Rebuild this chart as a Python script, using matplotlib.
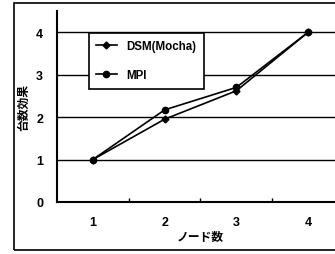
import matplotlib.pyplot as plt
from matplotlib.patches import Rectangle

nodes = [1, 2, 3, 4]
tick_labels = ['1', '2', '3', '4']
dsm_mocha = [1.0, 1.95, 2.62, 4.0]
mpi = [1.0, 2.17, 2.70, 4.0]

plt.rcParams['font.family'] = ['Liberation Sans', 'Noto Sans CJK JP', 'DejaVu Sans']
plt.rcParams['font.weight'] = 'bold'

fig = plt.figure(figsize=(3.35, 2.55), dpi=100)
ax = fig.add_axes([0.170, 0.204, 0.857, 0.749])

ax.plot(nodes, dsm_mocha, color='black', lw=1.2, marker='D', ms=3.5, label='DSM(Mocha)')
ax.plot(nodes, mpi, color='black', lw=1.2, marker='o', ms=4.5, label='MPI')

ax.set_xlim(0.5, 4.5)
ax.set_ylim(0, 4.5)
ax.set_xticks(nodes)
ax.set_xticklabels(tick_labels)
ax.set_xticks([1.5, 2.5, 3.5], minor=True)
ax.set_yticks([0, 1, 2, 3, 4])
ax.tick_params(axis='both', which='major', length=0, labelsize=9, pad=10)
ax.tick_params(axis='x', which='minor', direction='in', length=3, width=1)
ax.yaxis.grid(True, color='black', lw=1)
ax.set_axisbelow(True)

for s in ['top', 'right']:
    ax.spines[s].set_visible(False)
for s in ['left', 'bottom']:
    ax.spines[s].set_linewidth(1.5)

ax.set_xlabel('ノード数', fontsize=8.5, fontweight='bold', labelpad=1,
              family=['Noto Sans CJK JP'])
ax.set_ylabel('台数効果', fontsize=8.5, fontweight='bold', labelpad=4,
              family=['Noto Sans CJK JP'])

leg = ax.legend(loc='upper left', bbox_to_anchor=(0.09, 0.915), fontsize=8.3,
                frameon=True, fancybox=False, edgecolor='black', framealpha=1,
                handlelength=1.8, borderpad=0.65, labelspacing=1.45)
leg.get_frame().set_linewidth(1.2)

fig.patches.append(Rectangle((14 / 335, 4 / 255), 1.0, 1 - 8 / 255,
                             transform=fig.transFigure, fill=False,
                             edgecolor='black', lw=1.2))

fig.savefig('out.png', dpi=100)
